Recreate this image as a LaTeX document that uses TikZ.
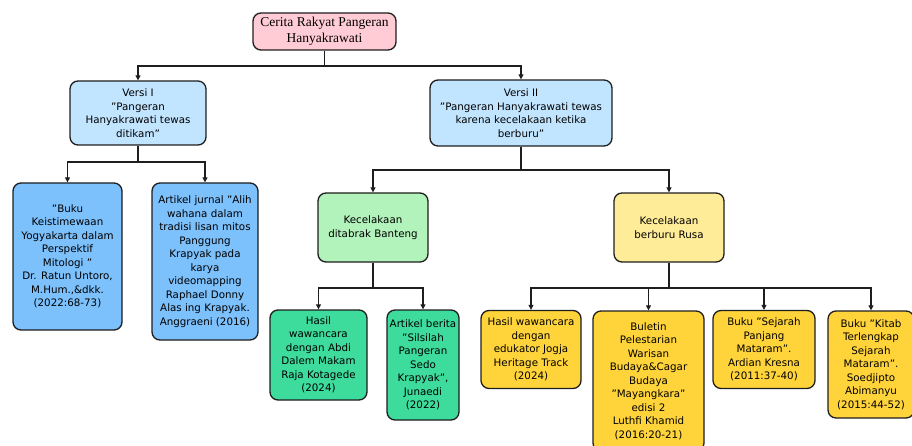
\documentclass[tikz,border=0pt]{standalone}
\usepackage{fontspec}
\setmainfont{DejaVu Sans}
\newfontfamily\rootfont{Liberation Serif}
\usetikzlibrary{arrows.meta}
\newcommand\dqt{\symbol{34}}
\definecolor{cpink}{HTML}{FFCCD5}
\definecolor{clblue}{HTML}{C2E5FF}
\definecolor{cblue}{HTML}{7CC0FC}
\definecolor{clgreen}{HTML}{B2F2BB}
\definecolor{cgreen}{HTML}{3DDB9C}
\definecolor{clyellow}{HTML}{FFEC99}
\definecolor{cyellow}{HTML}{FFD43B}
\definecolor{cline}{HTML}{1E1E1E}
\tikzset{
  box/.style={draw=cline, line width=1.3pt, rounded corners=8pt, align=center,
    inner sep=0pt, font=\fontsize{10.3}{13.5}\selectfont},
  conn/.style={draw=cline, line width=1.1pt},
  arr/.style={conn, -{Triangle[length=5pt,width=5pt]}}
}
\begin{document}
\begin{tikzpicture}[x=1pt,y=-1pt]
\useasboundingbox (0,0) rectangle (912,446);
% level 0
\node[box, fill=cpink, minimum width=143, minimum height=37,
  font=\rootfont\fontsize{13.5}{16}\selectfont] (root) at (324.5,31.5)
  {Cerita Rakyat Pangeran\\Hanyakrawati};
% level 1
\node[box, fill=clblue, minimum width=136, minimum height=64] (v1) at (138,113)
  {Versi I\\\dqt Pangeran\\Hanyakrawati tewas\\ditikam\dqt};
\node[box, fill=clblue, minimum width=182, minimum height=66] (v2) at (521,113)
  {Versi II\\\dqt Pangeran Hanyakrawati tewas\\karena kecelakaan ketika\\berburu\dqt};
% level 2 (Versi I)
\node[box, fill=cblue, minimum width=109, minimum height=147] (b1) at (67.5,256.5)
  {\dqt Buku\\Keistimewaan\\Yogyakarta dalam\\Perspektif\\Mitologi \dqt\\Dr. Ratun Untoro,\\M.Hum.,\&dkk.\\(2022:68-73)};
\node[box, fill=cblue, minimum width=106, minimum height=157] (b2) at (205,261.5)
  {Artikel jurnal \dqt Alih\\wahana dalam\\tradisi lisan mitos\\Panggung\\Krapyak pada\\karya\\videomapping\\Raphael Donny\\Alas ing Krapyak.\\Anggraeni (2016)};
% level 2 (Versi II)
\node[box, fill=clgreen, minimum width=110, minimum height=69] (k1) at (373,227.5)
  {Kecelakaan\\ditabrak Banteng};
\node[box, fill=clyellow, minimum width=110, minimum height=69] (k2) at (669,227.5)
  {Kecelakaan\\berburu Rusa};
% level 3 (Banteng)
\node[box, fill=cgreen, minimum width=97, minimum height=90] (g1) at (318.5,355)
  {Hasil\\wawancara\\dengan Abdi\\Dalem Makam\\Raja Kotagede\\(2024)};
\node[box, fill=cgreen, minimum width=72, minimum height=110] (g2) at (423,365)
  {Artikel berita\\\dqt Silsilah\\Pangeran\\Sedo\\Krapyak\dqt,\\Junaedi\\(2022)};
% level 3 (Rusa)
\node[box, fill=cyellow, minimum width=100, minimum height=78] (y1) at (531,349.5)
  {Hasil wawancara\\dengan\\edukator Jogja\\Heritage Track\\(2024)};
\node[box, fill=cyellow, minimum width=111, minimum height=140] (y2) at (648.5,381)
  {Buletin\\Pelestarian\\Warisan\\Budaya\&Cagar\\Budaya\\\dqt Mayangkara\dqt\\edisi 2\\Luthfi Khamid\\(2016:20-21)};
\node[box, fill=cyellow, minimum width=102, minimum height=78] (y3) at (764,349.5)
  {Buku \dqt Sejarah\\Panjang\\Mataram\dqt.\\Ardian Kresna\\(2011:37-40)};
\node[box, fill=cyellow, minimum width=86, minimum height=107] (y4) at (871,364.5)
  {Buku \dqt Kitab\\Terlengkap\\Sejarah\\Mataram\dqt.\\Soedjipto\\Abimanyu\\(2015:44-52)};
% junctions
\coordinate (j0) at (324.5,66);
\coordinate (j1) at (138,162);
\coordinate (j2) at (521,170);
\coordinate (j3) at (373,288);
\coordinate (j4) at (669,288);
% connectors
\draw[conn] (root.south) -- (j0);
\draw[arr] (j0) -| (v1.north);
\draw[arr] (j0) -| (v2.north);
\draw[conn] (v1.south) -- (j1);
\draw[arr] (j1) -| (b1.north);
\draw[arr] (j1) -| (b2.north);
\draw[conn] (v2.south) -- (j2);
\draw[arr] (j2) -| (k1.north);
\draw[arr] (j2) -| (k2.north);
\draw[conn] (k1.south) -- (j3);
\draw[arr] (j3) -| (g1.north);
\draw[arr] (j3) -| (g2.north);
\draw[conn] (k2.south) -- (j4);
\draw[arr] (j4) -| (y1.north);
\draw[arr] (j4) -| (y2.north);
\draw[arr] (j4) -| (y3.north);
\draw[arr] (j4) -| (y4.north);
\end{tikzpicture}
\end{document}
